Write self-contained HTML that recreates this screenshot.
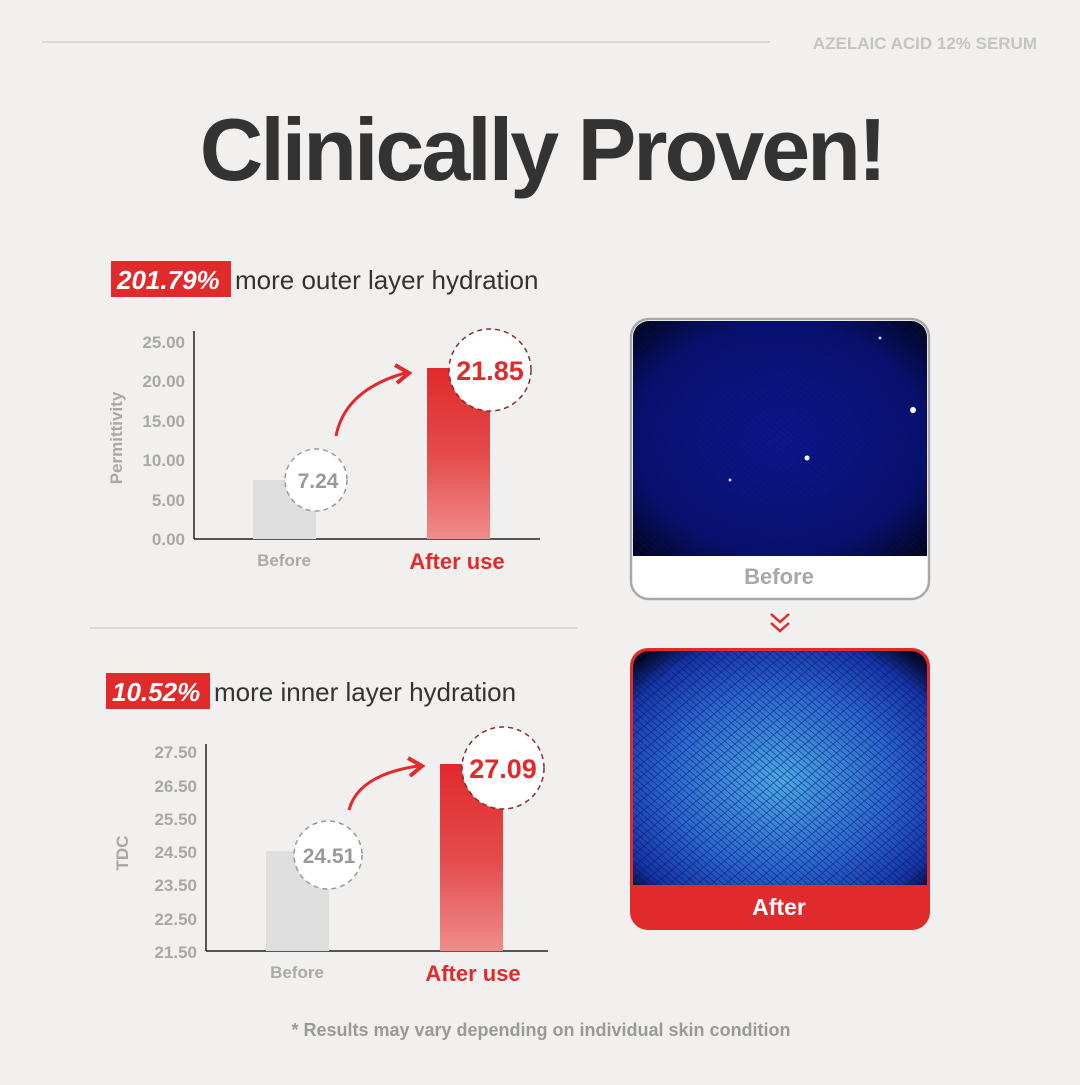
<!DOCTYPE html>
<html><head><meta charset="utf-8"><style>
body{margin:0;width:1080px;height:1080px;overflow:hidden;background:#f1f0ee;font-family:"Liberation Sans",sans-serif}
</style></head><body>
<svg width="1080" height="1080" viewBox="0 0 1080 1080" xmlns="http://www.w3.org/2000/svg" font-family="Liberation Sans, sans-serif">
<defs>
<linearGradient id="rg" x1="0" y1="0" x2="0" y2="1"><stop offset="0" stop-color="#e02a2c"/><stop offset="0.5" stop-color="#e44a4a"/><stop offset="1" stop-color="#ef8c8c"/></linearGradient>
<radialGradient id="bf" cx="0.5" cy="0.5" r="0.7"><stop offset="0" stop-color="#0c1690"/><stop offset="0.7" stop-color="#081070"/><stop offset="1" stop-color="#02041a"/></radialGradient>
<radialGradient id="af" cx="0.5" cy="0.55" r="0.7"><stop offset="0" stop-color="#4aa8e6"/><stop offset="0.55" stop-color="#2a64d0"/><stop offset="0.85" stop-color="#1634a8"/><stop offset="1" stop-color="#020620"/></radialGradient>
<pattern id="net" width="14" height="12" patternUnits="userSpaceOnUse"><path d="M0 6 L7 0 L14 6 L7 12 Z M0 0 L14 12" stroke="#061050" stroke-width="0.8" fill="none" opacity="0.6"/></pattern>
<clipPath id="c1"><rect x="633" y="321" width="294" height="276" rx="16"/></clipPath>
<clipPath id="c2"><rect x="633" y="651" width="294" height="276" rx="16"/></clipPath>
</defs>
<rect width="1080" height="1080" fill="#f1f0ee"/>
<line x1="42" y1="42" x2="770" y2="42" stroke="#cfcfcf" stroke-width="1.5"/>
<text x="1037" y="49" text-anchor="end" font-size="17" font-weight="bold" fill="#c4c4c4">AZELAIC ACID 12% SERUM</text>
<text x="542" y="180" text-anchor="middle" font-size="88" font-weight="bold" fill="#333" letter-spacing="-3">Clinically Proven!</text>

<rect x="111" y="261" width="120" height="36" fill="#e02a2c"/>
<text x="117" y="289" font-size="26" font-weight="bold" font-style="italic" fill="#fff">201.79%</text>
<text x="235" y="289" font-size="26" fill="#333">more outer layer hydration</text>

<g font-weight="bold" fill="#a8a8a8" font-size="17" text-anchor="end">
<text x="185" y="348">25.00</text><text x="185" y="387">20.00</text><text x="185" y="427">15.00</text><text x="185" y="466">10.00</text><text x="185" y="506">5.00</text><text x="185" y="545">0.00</text>
</g>
<text transform="translate(122,438) rotate(-90)" text-anchor="middle" font-size="17" font-weight="bold" fill="#a8a8a8">Permittivity</text>
<line x1="194" y1="331" x2="194" y2="539" stroke="#222" stroke-width="1.5"/>
<line x1="194" y1="539" x2="540" y2="539" stroke="#222" stroke-width="1.5"/>
<rect x="253" y="480" width="63" height="59" fill="#dedede"/>
<rect x="427" y="368" width="63" height="171" fill="url(#rg)"/>
<path d="M336 436 Q345 390 405 373" stroke="#e02a2c" stroke-width="3" fill="none"/>
<path d="M395 365 L409 373 L397 383" stroke="#e02a2c" stroke-width="4" fill="none"/>
<circle cx="316" cy="480" r="31" fill="#fff" stroke="#999" stroke-width="1.5" stroke-dasharray="5,4"/>
<text x="318" y="488" text-anchor="middle" font-size="21" font-weight="bold" fill="#999">7.24</text>
<circle cx="490" cy="370" r="41" fill="#fff" stroke="#8a2a32" stroke-width="1.5" stroke-dasharray="5,4"/>
<text x="490" y="380" text-anchor="middle" font-size="27" font-weight="bold" fill="#e02a2c">21.85</text>
<text x="284" y="566" text-anchor="middle" font-size="17" font-weight="bold" fill="#aaa">Before</text>
<text x="457" y="569" text-anchor="middle" font-size="22" font-weight="bold" fill="#e02a2c">After use</text>

<line x1="90" y1="628" x2="578" y2="628" stroke="#cfcfcf" stroke-width="1.5"/>

<rect x="106" y="673" width="104" height="36" fill="#e02a2c"/>
<text x="112" y="701" font-size="26" font-weight="bold" font-style="italic" fill="#fff">10.52%</text>
<text x="214" y="701" font-size="26" fill="#333">more inner layer hydration</text>

<g font-weight="bold" fill="#a8a8a8" font-size="17" text-anchor="end">
<text x="197" y="758">27.50</text><text x="197" y="792">26.50</text><text x="197" y="825">25.50</text><text x="197" y="858">24.50</text><text x="197" y="891">23.50</text><text x="197" y="925">22.50</text><text x="197" y="958">21.50</text>
</g>
<text transform="translate(128,853) rotate(-90)" text-anchor="middle" font-size="17" font-weight="bold" fill="#a8a8a8">TDC</text>
<line x1="206" y1="744" x2="206" y2="951" stroke="#222" stroke-width="1.5"/>
<line x1="206" y1="951" x2="548" y2="951" stroke="#222" stroke-width="1.5"/>
<rect x="266" y="851" width="63" height="100" fill="#dedede"/>
<rect x="440" y="764" width="63" height="187" fill="url(#rg)"/>
<path d="M349 810 Q358 775 418 766" stroke="#e02a2c" stroke-width="3" fill="none"/>
<path d="M408 758 L422 766 L410 776" stroke="#e02a2c" stroke-width="4" fill="none"/>
<circle cx="328" cy="855" r="34" fill="#fff" stroke="#999" stroke-width="1.5" stroke-dasharray="5,4"/>
<text x="329" y="863" text-anchor="middle" font-size="21" font-weight="bold" fill="#999">24.51</text>
<circle cx="503" cy="768" r="41" fill="#fff" stroke="#8a2a32" stroke-width="1.5" stroke-dasharray="5,4"/>
<text x="503" y="778" text-anchor="middle" font-size="27" font-weight="bold" fill="#e02a2c">27.09</text>
<text x="297" y="978" text-anchor="middle" font-size="17" font-weight="bold" fill="#aaa">Before</text>
<text x="473" y="981" text-anchor="middle" font-size="22" font-weight="bold" fill="#e02a2c">After use</text>

<text x="541" y="1036" text-anchor="middle" font-size="18" font-weight="bold" fill="#999">* Results may vary depending on individual skin condition</text>

<rect x="631" y="319" width="298" height="280" rx="18" fill="#fff" stroke="#a8a8a8" stroke-width="2.5"/>
<g clip-path="url(#c1)"><rect x="633" y="321" width="294" height="235" fill="url(#bf)"/>
<rect x="633" y="321" width="294" height="235" fill="url(#net)" opacity="0.7"/>
<circle cx="913" cy="410" r="3" fill="#fff"/><circle cx="807" cy="458" r="2.5" fill="#fff"/><circle cx="730" cy="480" r="1.5" fill="#ccf"/><circle cx="880" cy="338" r="1.5" fill="#ccf"/></g>
<text x="779" y="584" text-anchor="middle" font-size="22" font-weight="bold" fill="#a8a8a8">Before</text>
<path d="M771 614 L780 622 L789 614 M771 623 L780 631 L789 623" stroke="#e02a2c" stroke-width="2.5" fill="none"/>
<rect x="630" y="648" width="300" height="282" rx="18" fill="#e02a2c"/>
<g clip-path="url(#c2)"><rect x="633" y="651" width="294" height="234" fill="url(#af)"/>
<rect x="633" y="651" width="294" height="234" fill="url(#net)"/></g>
<text x="779" y="915" text-anchor="middle" font-size="23" font-weight="bold" fill="#fff">After</text>
</svg>
</body></html>
